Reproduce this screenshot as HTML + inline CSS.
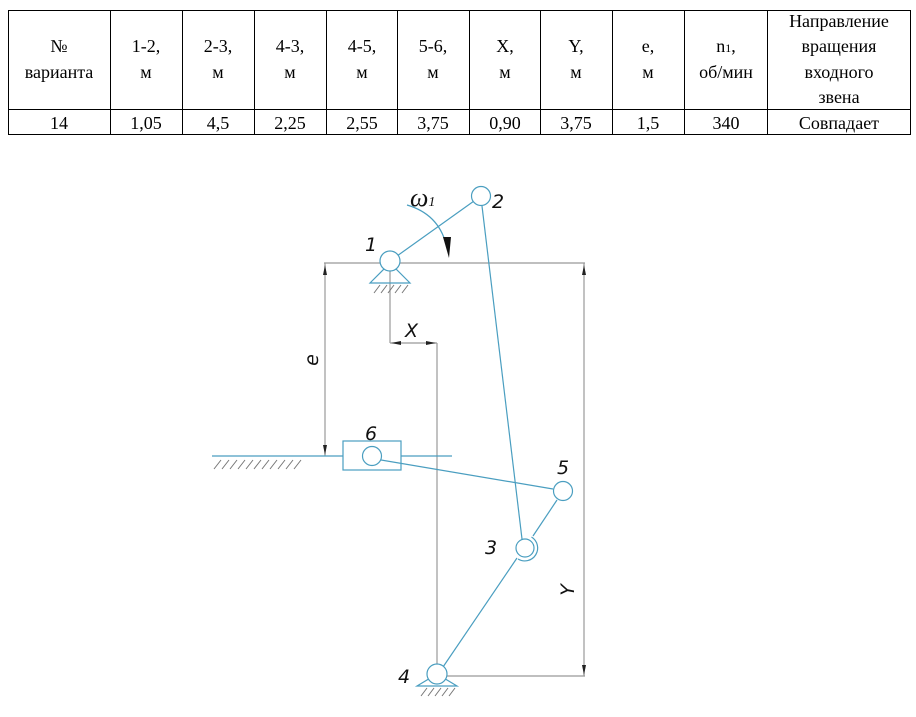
<!DOCTYPE html>
<html><head><meta charset="utf-8"><style>
html,body{margin:0;padding:0;background:#fff;width:916px;height:717px;overflow:hidden}
svg{position:absolute;left:0;top:0}
</style></head><body>
<svg width="916" height="717" viewBox="0 0 916 717" xmlns="http://www.w3.org/2000/svg">
<g font-family="Liberation Serif, serif" font-size="18" fill="#000" text-anchor="middle">
<rect x="8.5" y="10.5" width="902" height="124" fill="none" stroke="#000" stroke-width="1"/>
<line x1="8" y1="109.5" x2="911" y2="109.5" stroke="#000"/>
<g stroke="#000">
<line x1="110.5" y1="10" x2="110.5" y2="135"/><line x1="182.5" y1="10" x2="182.5" y2="135"/>
<line x1="254.5" y1="10" x2="254.5" y2="135"/><line x1="326.5" y1="10" x2="326.5" y2="135"/>
<line x1="397.5" y1="10" x2="397.5" y2="135"/><line x1="469.5" y1="10" x2="469.5" y2="135"/>
<line x1="540.5" y1="10" x2="540.5" y2="135"/><line x1="612.5" y1="10" x2="612.5" y2="135"/>
<line x1="684.5" y1="10" x2="684.5" y2="135"/><line x1="767.5" y1="10" x2="767.5" y2="135"/>
</g>
<text x="59" y="52">№</text><text x="59" y="78">варианта</text>
<text x="146" y="52">1-2,</text><text x="146" y="78">м</text>
<text x="218" y="52">2-3,</text><text x="218" y="78">м</text>
<text x="290" y="52">4-3,</text><text x="290" y="78">м</text>
<text x="362" y="52">4-5,</text><text x="362" y="78">м</text>
<text x="433" y="52">5-6,</text><text x="433" y="78">м</text>
<text x="505" y="52">X,</text><text x="505" y="78">м</text>
<text x="576" y="52">Y,</text><text x="576" y="78">м</text>
<text x="648" y="52">e,</text><text x="648" y="78">м</text>
<text x="726" y="52">n<tspan font-size="12">1</tspan>,</text><text x="726" y="78">об/мин</text>
<text x="839" y="27">Направление</text><text x="839" y="52">вращения</text><text x="839" y="78">входного</text><text x="839" y="103">звена</text>
<text x="59" y="129">14</text><text x="146" y="129">1,05</text><text x="218" y="129">4,5</text>
<text x="290" y="129">2,25</text><text x="362" y="129">2,55</text><text x="433" y="129">3,75</text>
<text x="505" y="129">0,90</text><text x="576" y="129">3,75</text><text x="648" y="129">1,5</text>
<text x="726" y="129">340</text><text x="839" y="129">Совпадает</text>
</g>

<g stroke="#999" stroke-width="1.2" fill="none">
<line x1="324" y1="263" x2="585" y2="263"/>
<line x1="325" y1="263" x2="325" y2="456"/>
<line x1="584" y1="263" x2="584" y2="676"/>
<line x1="390" y1="263" x2="390" y2="343"/>
<line x1="390" y1="343" x2="437" y2="343"/>
<line x1="437" y1="343" x2="437" y2="675"/>
<line x1="437" y1="676" x2="585" y2="676"/>
</g>
<g fill="#222">
<path d="M325 265 l-2 10 h4z"/><path d="M325 455 l-2 -10 h4z"/>
<path d="M584 265 l-2 10 h4z"/><path d="M584 675 l-2 -10 h4z"/>
<path d="M391 343 l10 -2 v4z"/><path d="M436 343 l-10 -2 v4z"/>
</g>

<g stroke="#4a9ec0" stroke-width="1.2" fill="none">
<line x1="212" y1="456" x2="343" y2="456"/>
<line x1="401" y1="456" x2="452" y2="456"/>
<rect x="343" y="441" width="58" height="29"/>
<line x1="397" y1="256" x2="474" y2="201"/>
<line x1="482" y1="206" x2="522" y2="539"/>
<line x1="381" y1="460" x2="553" y2="489"/>
<line x1="557" y1="500" x2="533" y2="536"/>
<line x1="517" y1="558" x2="443" y2="667"/>
<path d="M370 283 L390 263 L410 283 Z"/>
<path d="M417 686 L437 674 L457 686 Z"/>
<circle cx="390" cy="261" r="10" fill="#fff"/>
<circle cx="481" cy="196" r="9.5" fill="#fff"/>
<circle cx="372" cy="456" r="9.5" fill="#fff"/>
<circle cx="563" cy="491" r="9.5" fill="#fff"/>
<circle cx="525" cy="548" r="9" fill="#fff"/>
<path d="M531.5 537 A12.5 12.5 0 0 1 518 559"/>
<circle cx="437" cy="674" r="10" fill="#fff"/>
</g>
<g stroke="#777" stroke-width="1">
<path d="M374 293l6-8M381 293l6-8M388 293l6-8M395 293l6-8M402 293l6-8"/>
<path d="M421 696l6-8M428 696l6-8M435 696l6-8M442 696l6-8M449 696l6-8"/>
<path d="M214 469l7-9M222 469l7-9M230 469l7-9M238 469l7-9M246 469l7-9M254 469l7-9M262 469l7-9M270 469l7-9M278 469l7-9M286 469l7-9M294 469l7-9"/>
</g>
<path d="M407 205 Q438 214 446 244" stroke="#4a9ec0" stroke-width="1.2" fill="none"/>
<path d="M443 237 L451 237 L449 258 Z" fill="#111"/>
<g font-family="DejaVu Sans, sans-serif" font-style="italic" font-size="19" fill="#111">
<text x="365" y="251">1</text>
<text x="492" y="208">2</text>
<text x="410" y="206" font-family="Liberation Serif, serif" font-size="26">ω<tspan font-size="14">1</tspan></text>
<text x="405" y="337">X</text>
<text x="365" y="440">6</text>
<text x="557" y="474">5</text>
<text x="485" y="554">3</text>
<text x="398" y="683">4</text>
<text transform="translate(318,360) rotate(-90)" text-anchor="middle">e</text>
<text transform="translate(574,590) rotate(-90)" text-anchor="middle">Y</text>
</g>
</svg>
</body></html>
